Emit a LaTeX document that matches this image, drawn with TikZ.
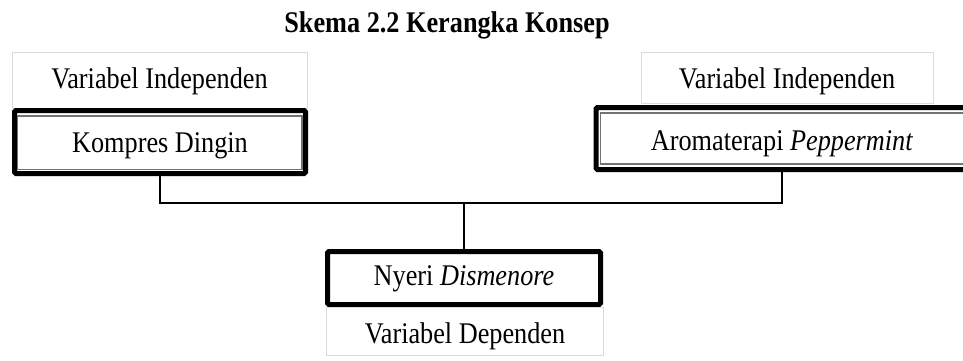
\documentclass[tikz,border=0pt]{standalone}
\usepackage{fontspec}
\setmainfont{Liberation Serif}[FakeStretch=0.875]
\begin{document}
\begin{tikzpicture}[x=1pt,y=-1pt,
  every node/.style={font=\fontsize{30}{34}\selectfont, inner sep=0pt, outer sep=0pt, text depth=0pt},
  labelbox/.style={draw=black!14, line width=0.8pt},
  thickbox/.style={draw=black, line width=5pt, rounded corners=1.5pt},
  innerline/.style={draw=black!55, line width=1.3pt},
  conn/.style={draw=black, line width=1.4pt}]
\useasboundingbox (0,0) rectangle (963,360);
% title
\node[font=\fontsize{30}{34}\selectfont\bfseries, anchor=base] (title) at (447,32) {Skema 2.2 Kerangka Konsep};
% left
\node[labelbox, minimum width=295, minimum height=56, text height=16pt] (li) at (159.5,80) {Variabel Independen};
\node[thickbox, minimum width=291, minimum height=63, text height=20pt] (k) at (160,142) {Kompres Dingin};
\draw[innerline] ([shift={(3,5.5)}]k.north west) rectangle ([shift={(-3.5,-4)}]k.south east);
% right
\node[labelbox, minimum width=292, minimum height=51, text height=21pt] (ri) at (787,77.5) {Variabel Independen};
\node[thickbox, minimum width=372, minimum height=62, text height=23pt] (a) at (782,138.5) {Aromaterapi \textit{Peppermint}};
\draw[innerline] ([shift={(4.5,5.5)}]a.north west) rectangle ([shift={(-4.5,-5.5)}]a.south east);
% bottom
\node[thickbox, minimum width=273, minimum height=53, text height=14pt] (n) at (464,278) {Nyeri \textit{Dismenore}};
\node[labelbox, minimum width=277, minimum height=48, text height=24pt] (di) at (465,331) {Variabel Dependen};
% connectors
\coordinate (j) at (464,203);
\draw[conn] (k.south) |- (j);
\draw[conn] (a.south) |- (j);
\draw[conn] (j) -- (n.north);
\end{tikzpicture}
\end{document}
